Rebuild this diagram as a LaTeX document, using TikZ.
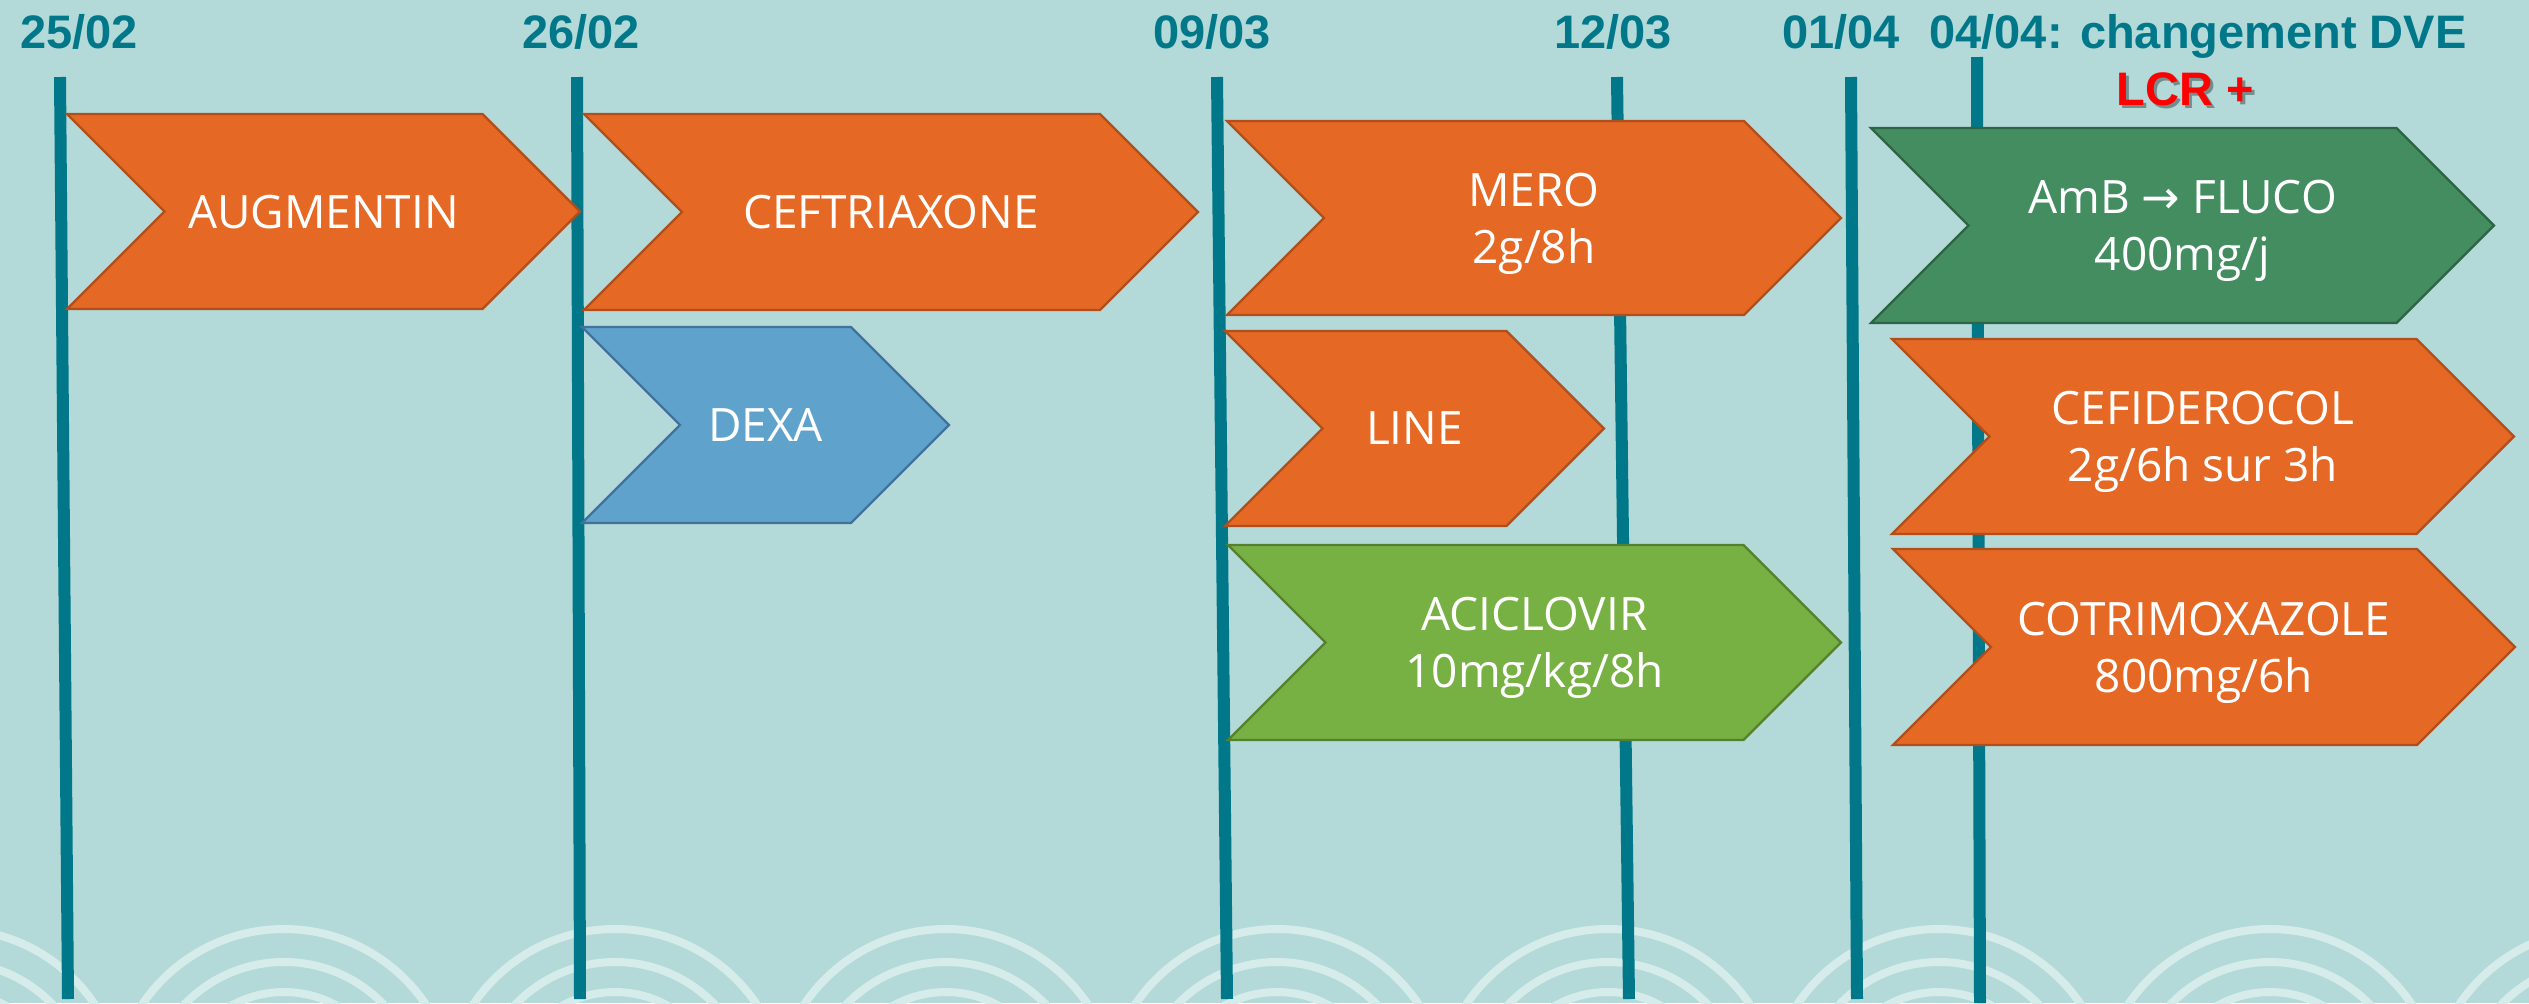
\documentclass[tikz,border=0pt]{standalone}
\usepackage{fontspec}
\setmainfont{Open Sans}
\newfontfamily\datefont{Liberation Sans}
\newfontfamily\arrowfont{DejaVu Sans}
\definecolor{bgc}{HTML}{B3DAD8}
\definecolor{arcc}{HTML}{D6ECEA}
\definecolor{tealc}{HTML}{00788A}
\definecolor{orfill}{HTML}{E56825}
\definecolor{orline}{HTML}{B04F1C}
\definecolor{blfill}{HTML}{5FA3CC}
\definecolor{blline}{HTML}{41719C}
\definecolor{grfill}{HTML}{77B143}
\definecolor{grline}{HTML}{55802F}
\definecolor{dgfill}{HTML}{438D61}
\definecolor{dgline}{HTML}{2E6446}
\newcommand\mychev[7]{%
  \path[#1] (#2,#4) -- ({#3-(#5-#4)/2},#4) -- (#3,{(#4+#5)/2}) -- ({#3-(#5-#4)/2},#5)
     -- (#2,#5) -- ({#2+(#5-#4)/2},{(#4+#5)/2}) -- cycle;
  \node[chevtext] (#6) at ({(#2+#3)/2},{(#4+#5)/2}) {#7};}
\begin{document}
\begin{tikzpicture}[x=0.5pt,y=-0.5pt,
  timeline/.style={draw=tealc, line width=6pt},
  bgarc/.style={draw=arcc, line width=4pt},
  datelabel/.style={font=\datefont\bfseries\fontsize{23.5}{28}\selectfont, text=tealc, anchor=base west, inner sep=0pt},
  chevtext/.style={font=\fontsize{23}{28.5}\selectfont, text=white, align=center, text depth=0pt, inner sep=0pt},
  orchev/.style={fill=orfill, draw=orline, line width=1.2pt, line join=miter},
  blchev/.style={fill=blfill, draw=blline, line width=1.2pt, line join=miter},
  grchev/.style={fill=grfill, draw=grline, line width=1.2pt, line join=miter},
  dgchev/.style={fill=dgfill, draw=dgline, line width=1.2pt, line join=miter}]
\fill[bgc] (0,0) rectangle (2529,1003);
\useasboundingbox (0,0) rectangle (2529,1003);
% background arcs
\begin{scope}
\clip (0,0) rectangle (2529,1003);
\foreach \cx in {-47,284,615,946,1277,1608,1939,2270,2601}{
  \foreach \r in {171,138,108}{
    \draw[bgarc] (\cx,1100) circle[radius=\r];
  }
}
\end{scope}
% timelines
\coordinate (l1a) at (60,77);   \coordinate (l1b) at (68,999);
\coordinate (l2a) at (577,77);  \coordinate (l2b) at (580,999);
\coordinate (l3a) at (1217,77); \coordinate (l3b) at (1227,999);
\coordinate (l4a) at (1617,77); \coordinate (l4b) at (1629,999);
\coordinate (l5a) at (1851,77); \coordinate (l5b) at (1857,999);
\coordinate (l6a) at (1977,57); \coordinate (l6b) at (1980,1003);
\foreach \i in {1,...,6}{\draw[timeline] (l\i a) -- (l\i b);}
% date labels
\node[datelabel] (d1) at (20,48) {25/02};
\node[datelabel] (d2) at (522,48) {26/02};
\node[datelabel] (d3) at (1153,48) {09/03};
\node[datelabel] (d4) at (1554,48) {12/03};
\node[datelabel] (d5) at (1782,48) {01/04};
\node[datelabel] (d6) at (1929,48) {04/04: changement DVE};
\node[datelabel, text=black, opacity=0.35] (lcrs) at (2119,108) {LCR +};
\node[datelabel, text=red] (lcr) at (2116,105) {LCR +};
% chevrons
\mychev{orchev}{67}{580}{114}{309}{augm}{AUGMENTIN}
\mychev{orchev}{584}{1198}{114}{310}{ceft}{CEFTRIAXONE}
\mychev{blchev}{582}{949}{327}{523}{dexa}{DEXA}
\mychev{orchev}{1227}{1841}{121}{315}{mero}{MERO\\2g/8h}
\mychev{orchev}{1225}{1604}{331}{526}{line}{LINE}
\mychev{grchev}{1228}{1841}{545}{740}{acic}{ACICLOVIR\\10mg/kg/8h}
\mychev{dgchev}{1871}{2494}{128}{323}{amb}{AmB {\arrowfont →} FLUCO\\400mg/j}
\mychev{orchev}{1892}{2514}{339}{534}{cefi}{CEFIDEROCOL\\2g/6h sur 3h}
\mychev{orchev}{1893}{2515}{549}{745}{cotr}{COTRIMOXAZOLE\\800mg/6h}
\end{tikzpicture}
\end{document}
